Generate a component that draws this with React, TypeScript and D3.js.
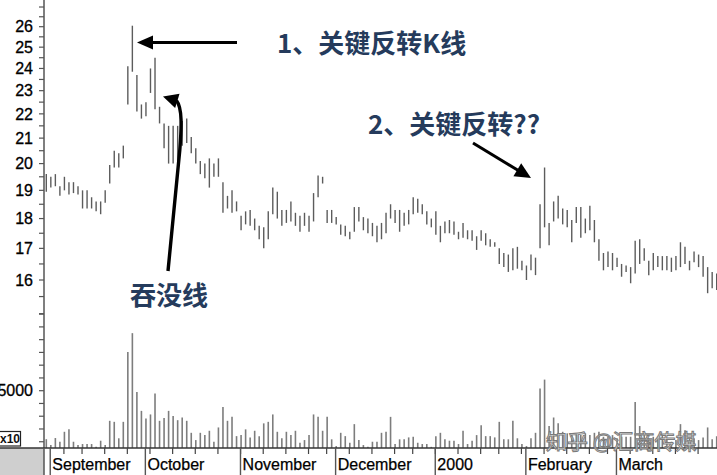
import React from "react";
import * as d3 from "d3";

// ---------- data ----------
const START_DATE = "1999-08-31";
const END_DATE = "2000-03-31";
const HOLIDAYS = ["1999-09-06", "1999-11-25", "1999-12-24", "2000-01-17", "2000-02-21"];

const HIGH = [
  19.6, 19.5, 19.6, 19.15, 19.5, 19.3, 19.3, 19.15, 19.0, 19.0, 18.75, 18.6, 18.6, 19.0, 19.95, 20.5, 20.4, 20.7,
  24.1, 26.05, 23.7, 22.4, 22.5, 24.0, 24.5, 22.3, 21.6, 21.5, 21.5, 21.5, 21.7, 21.8, 21.05, 20.6, 20.1, 20.0,
  20.2, 20.0, 20.2, 19.3, 18.8, 19.0, 18.6,
  18.1, 18.25, 18.3, 18.0, 17.75, 17.7, 18.25, 19.1, 18.95, 18.3, 18.3, 18.6, 18.2, 18.1, 18.2, 18.1, 18.9, 19.55,
  19.5, 18.3, 18.3,
  18.05, 17.8, 17.75, 17.55, 18.4, 18.4, 18.05, 18.0, 17.85, 17.75, 17.85, 18.2, 18.5, 18.3, 18.3, 18.2, 18.3,
  18.75, 18.7, 18.5, 18.25, 18.0,
  18.25, 17.75, 17.9, 17.95, 17.9, 17.55, 17.85, 17.6, 17.6, 17.4, 17.6, 17.5, 17.3, 17.2, 17.0, 16.85, 16.8, 17.0,
  17.05, 16.6,
  16.45, 16.8, 16.7, 18.5, 19.85, 17.85, 18.6, 18.8, 18.35, 18.3, 17.95, 18.4, 18.4, 18.0, 18.45, 17.95, 17.3,
  16.85, 16.9, 16.85,
  16.7, 16.5, 16.45, 16.4, 17.25, 17.3, 17.0, 16.6, 16.85, 16.75, 16.75, 16.75, 16.7, 16.75, 17.2, 17.05, 16.6,
  16.9, 16.8, 16.75, 16.4, 16.25, 16.2,
];

const LOW = [
  18.95, 19.1, 19.15, 18.8, 19.0, 18.85, 18.9, 18.85, 18.35, 18.35, 18.35, 18.25, 18.15, 18.55, 19.25, 19.85, 19.85,
  20.2, 22.4, 23.85, 22.1, 21.8, 21.9, 22.9, 22.2, 21.6, 20.6, 20.0, 20.0, 20.1, 20.7, 20.8, 20.4, 20.0, 19.6, 19.45,
  19.1, 19.5, 19.5, 18.2, 18.35, 18.2, 18.25,
  17.6, 17.8, 17.75, 17.6, 17.3, 17.0, 17.3, 18.15, 18.0, 17.75, 17.85, 17.9, 17.75, 17.55, 17.75, 17.55, 17.9,
  18.75, 19.25, 17.85, 17.85,
  17.8, 17.45, 17.4, 17.3, 17.55, 17.9, 17.6, 17.5, 17.4, 17.2, 17.3, 17.5, 18.0, 17.85, 17.55, 17.75, 17.8, 18.15,
  18.2, 18.15, 17.8, 17.7,
  17.45, 17.2, 17.5, 17.5, 17.45, 17.3, 17.35, 17.3, 17.25, 16.95, 17.25, 17.1, 17.05, 17.05, 16.5, 16.4, 16.25,
  16.3, 16.35, 16.3,
  16.0, 16.3, 16.15, 17.0, 17.7, 17.1, 17.9, 18.0, 17.8, 17.7, 17.2, 17.85, 17.35, 17.5, 17.6, 17.2, 16.6, 16.3,
  16.4, 16.3,
  16.4, 16.1, 16.25, 15.9, 16.2, 16.5, 16.6, 16.15, 16.3, 16.4, 16.3, 16.3, 16.25, 16.3, 16.4, 16.5, 16.3, 16.55,
  16.4, 16.1, 15.6, 15.75, 15.7,
];

const VOLUME = [
  1200, 740, 1290, 1000, 1780, 1970, 1000, 740, 820, 820, 820, 610, 1080, 740, 2640, 2560, 1270, 2560,
  8030, 9510, 4900, 3420, 2830, 3140, 4780, 2640, 2870, 3420, 3010, 2690, 2900, 2640, 1700, 1130, 1700, 1520,
  1860, 1000, 2120, 3730, 2640, 2950, 1440,
  1520, 1970, 1340, 1860, 1440, 2440, 2560, 3140, 1780, 1270, 1780, 1520, 1860, 920, 1130, 1520, 3140, 2950, 1860,
  2950, 1190,
  660, 1700, 1440, 920, 2380, 1130, 740, 610, 1000, 1000, 1700, 1780, 2950, 820, 1190, 1190, 1340, 1390, 920, 820,
  820, 600,
  1440, 1700, 1190, 1080, 1080, 820, 1860, 820, 1080, 1520, 2300, 1440, 1440, 1340, 2560, 1190, 1190, 2640, 1270,
  820,
  660, 1270, 1700, 5170, 5870, 2230, 2900, 2440, 1780, 1660, 1520, 1660, 1520, 1660, 1520, 1700, 1780, 1390, 1390,
  1520,
  1270, 1390, 1390, 1390, 4120, 2230, 1520, 1270, 1390, 1130, 1520, 1270, 1000, 1130, 2380, 1910, 1270, 1270, 1130,
  1340, 2120, 1190, 1440,
];

const MONTH_NAMES = ["January", "February", "March", "April", "May", "June", "July", "August", "September", "October", "November", "December"];
const PRICE_LABELS = [16, 17, 18, 19, 20, 21, 22, 23, 24, 25, 26];
const VOLUME_LABELS = [5000];

const ANNOTATION_1 = "1、关键反转K线";
const ANNOTATION_2 = "2、关键反转??";
const ANNOTATION_3 = "吞没线";
const WATERMARK = "知乎 @汇商传媒";

// ---------- trading calendar ----------
function tradingDays(): Date[] {
  const out: Date[] = [];
  const hol = new Set(HOLIDAYS);
  const d = new Date(START_DATE + "T00:00:00Z");
  const end = new Date(END_DATE + "T00:00:00Z");
  while (d <= end) {
    const wd = d.getUTCDay();
    const key = d.toISOString().slice(0, 10);
    if (wd !== 0 && wd !== 6 && !hol.has(key)) out.push(new Date(d));
    d.setUTCDate(d.getUTCDate() + 1);
  }
  return out;
}

const W = 717;
const H = 475;
const AXIS_X = 44;
const BASE_Y = 448;

function arrowHead(tip: [number, number], from: [number, number], len: number, half: number) {
  const dx = tip[0] - from[0];
  const dy = tip[1] - from[1];
  const l = Math.hypot(dx, dy);
  const ux = dx / l, uy = dy / l;
  const bx = tip[0] - ux * len, by = tip[1] - uy * len;
  const px = -uy, py = ux;
  return `${tip[0]},${tip[1]} ${bx + px * half},${by + py * half} ${bx - px * half},${by - py * half}`;
}

export default function App() {
  const days = tradingDays();
  const N = HIGH.length;
  const x = d3.scaleLinear().domain([0, N - 1]).range([46.3, 716.7]);
  const yP = d3.scaleLog().domain([16, 26]).range([280, 26.7]);
  const yV = d3.scaleLinear().domain([0, 5000]).range([454.5, 390.7]);

  const priceTicks = d3.range(15, 27.01, 0.5);
  const volTicks = d3.range(1000, 11001, 1000);

  const monthStarts: { i: number; label: string }[] = [];
  const weekStarts: number[] = [];
  days.forEach((d, i) => {
    if (i > 0 && d.getUTCMonth() !== days[i - 1].getUTCMonth()) {
      const m = d.getUTCMonth();
      monthStarts.push({ i, label: m === 0 ? String(d.getUTCFullYear()) : MONTH_NAMES[m] });
    }
    if (i > 0 && d.getUTCDay() < days[i - 1].getUTCDay()) weekStarts.push(i);
  });

  const font = "'Liberation Sans', Arial, sans-serif";
  const cjk = "'Noto Sans CJK SC', sans-serif";

  return (
    <div style={{ position: "fixed", left: 0, top: 0, width: W, height: H, background: "#fff" }}>
      <svg width={W} height={H} viewBox={`0 0 ${W} ${H}`} style={{ display: "block" }}>
        <rect x={0} y={0} width={W} height={H} fill="#fff" />
        <defs>
          <clipPath id="plot">
            <rect x={AXIS_X + 1} y={0} width={W} height={BASE_Y} />
          </clipPath>
        </defs>

        {/* price bars */}
        <g clipPath="url(#plot)" stroke="#5c5c5c" strokeWidth={1.4}>
          {HIGH.map((h, i) => (
            <line key={i} x1={x(i)} x2={x(i)} y1={yP(h)} y2={yP(LOW[i])} />
          ))}
        </g>

        {/* volume bars */}
        <g clipPath="url(#plot)" stroke="#7d7d7d" strokeWidth={1.6}>
          {VOLUME.map((v, i) => (
            <line key={i} x1={x(i)} x2={x(i)} y1={BASE_Y} y2={yV(v)} />
          ))}
        </g>

        {/* left axis */}
        <line x1={AXIS_X} x2={AXIS_X} y1={0} y2={BASE_Y} stroke="#555" strokeWidth={1.5} />
        {priceTicks.map((t) => (
          <line key={"pt" + t} x1={AXIS_X - 5} x2={AXIS_X} y1={yP(t)} y2={yP(t)} stroke="#555" strokeWidth={1.2} />
        ))}
        {PRICE_LABELS.map((t) => (
          <text key={"pl" + t} x={33} y={yP(t)} dy="0.36em" textAnchor="end" fontFamily={font} fontSize={16} fill="#000" stroke="#000" strokeWidth={0.3}>
            {t}
          </text>
        ))}
        {volTicks.map((t) => (
          <line key={"vt" + t} x1={AXIS_X - 5} x2={AXIS_X} y1={yV(t)} y2={yV(t)} stroke="#555" strokeWidth={1.2} />
        ))}
        {VOLUME_LABELS.map((t) => (
          <text key={"vl" + t} x={33} y={yV(t)} dy="0.36em" textAnchor="end" fontFamily={font} fontSize={16} fill="#000" stroke="#000" strokeWidth={0.3}>
            {t}
          </text>
        ))}
        <rect x={-2} y={431.5} width={22.5} height={14.5} fill="#fff" stroke="#222" strokeWidth={1.2} />
        <text x={0} y={443} fontFamily={font} fontSize={12} fontWeight="bold" fill="#111">x10</text>

        {/* bottom band */}
        <rect x={0} y={BASE_Y} width={AXIS_X} height={H - BASE_Y} fill="#cfcfcf" />
        <line x1={0} x2={W} y1={BASE_Y} y2={BASE_Y} stroke="#333" strokeWidth={1.5} />
        {weekStarts.map((i) => (
          <line key={"w" + i} x1={x(i) - 0.5} x2={x(i) - 0.5} y1={BASE_Y} y2={BASE_Y + 6} stroke="#444" strokeWidth={1.2} />
        ))}
        <line x1={AXIS_X} x2={AXIS_X} y1={BASE_Y} y2={H} stroke="#555" strokeWidth={1.5} />
        {monthStarts.map((m) => (
          <g key={"m" + m.i}>
            <line x1={x(m.i) - 0.6} x2={x(m.i) - 0.6} y1={BASE_Y} y2={H} stroke="#555" strokeWidth={1.4} />
            <text x={x(m.i) + 1.5} y={470} fontFamily={font} fontSize={16} fill="#000" stroke="#000" strokeWidth={0.25}>
              {m.label}
            </text>
          </g>
        ))}

        {/* annotations */}
        <g fill="#253b5c" fontFamily={cjk} fontWeight="bold" fontSize={26}>
          <text x={277} y={53}>{ANNOTATION_1}</text>
          <text x={368} y={134}>{ANNOTATION_2}</text>
          <text x={130} y={305}>{ANNOTATION_3}</text>
        </g>

        {/* arrow 1 */}
        <line x1={150} x2={237} y1={42.5} y2={42.5} stroke="#000" strokeWidth={3} />
        <polygon points={arrowHead([137, 42.5], [237, 42.5], 16, 7)} fill="#000" />

        {/* arrow 2 (curved) */}
        <path d="M168,271 L179.8,150 C181.5,128 182.5,108 176.5,100.5" fill="none" stroke="#000" strokeWidth={3.4} />
        <polygon points={arrowHead([163, 96.5], [177, 100.8], 15, 7.5)} fill="#000" />

        {/* arrow 3 */}
        <line x1={473} y1={143} x2={520} y2={171.5} stroke="#000" strokeWidth={3} />
        <polygon points={arrowHead([531, 178], [473, 143], 16, 7.5)} fill="#000" />

        {/* watermark */}
        <text x={546} y={449} fontFamily={cjk} fontSize={21} fill="#ffffff" fillOpacity={0.9} stroke="#7a7a7a" strokeWidth={1}>
          {WATERMARK}
        </text>
      </svg>
    </div>
  );
}
